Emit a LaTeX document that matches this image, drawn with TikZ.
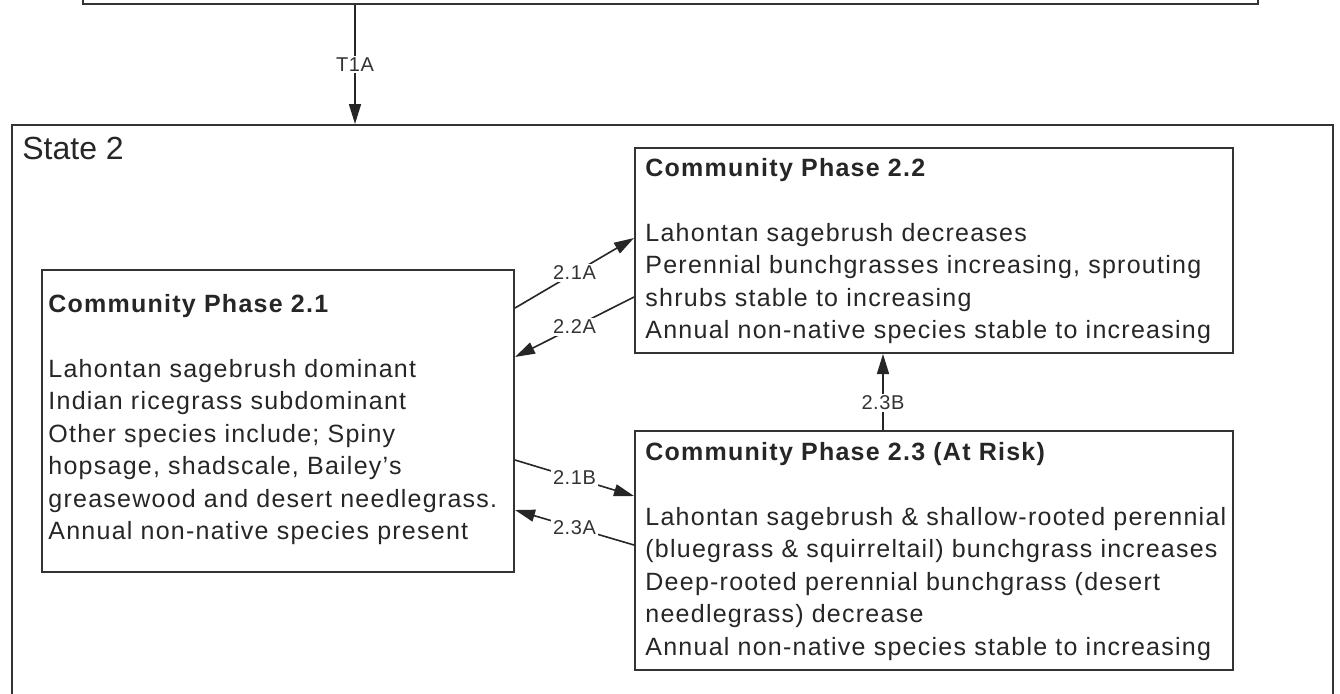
\documentclass[tikz,border=0pt]{standalone}
\usepackage{fontspec}
\setmainfont{Liberation Sans}
\newfontfamily\boxfont[LetterSpace=5]{Liberation Sans}
\newfontfamily\lblfont[LetterSpace=3]{Liberation Sans}
\usetikzlibrary{arrows.meta,fit}
\begin{document}
\begin{tikzpicture}[x=0.5pt,y=-0.5pt,
  frame/.style={draw=black!80,line width=1pt,inner sep=0pt},
  conn/.style={draw=black!85,line width=0.8pt,-{Triangle[length=10pt,width=6pt]}},
  lbl/.style={fill=white,inner sep=1pt,text=black!80,font=\lblfont\fontsize{10}{12}\selectfont},
  body/.style={anchor=base west,inner sep=0pt,text=black!85,font=\boxfont\fontsize{12.5}{16.25}\selectfont}]
\useasboundingbox (0,0) rectangle (1340,693);
\clip (0,0) rectangle (1340,693);
\fill[white] (0,0) rectangle (1340,693);

% frames
\node[frame,fit={(83,-60) (1258,4)}] (top) {};
\node[frame,fit={(12,125) (1333,760)}] (state) {};
\node[frame,fit={(42,270) (514,572)}] (p21) {};
\node[frame,fit={(635,148) (1233,353)}] (p22) {};
\node[frame,fit={(635,431) (1233,670)}] (p23) {};

% texts
\node[anchor=base west,inner sep=0pt,text=black!85,font=\fontsize{16}{19}\selectfont] (s2lbl) at (22,159) {State 2};

\node[body] (t21) at (48,312) {\begin{tabular}[t]{@{}l@{}}
\textbf{Community Phase 2.1}\\
\\
Lahontan sagebrush dominant\\
Indian ricegrass subdominant\\
Other species include; Spiny\\
hopsage, shadscale, Bailey’s\\
greasewood and desert needlegrass.\\
Annual non-native species present
\end{tabular}};

\node[body] (t22) at (645,176) {\begin{tabular}[t]{@{}l@{}}
\textbf{Community Phase 2.2}\\
\\
Lahontan sagebrush decreases\\
Perennial bunchgrasses increasing, sprouting\\
shrubs stable to increasing\\
Annual non-native species stable to increasing
\end{tabular}};

\node[body] (t23) at (645,460) {\begin{tabular}[t]{@{}l@{}}
\textbf{Community Phase 2.3 (At Risk)}\\
\\
Lahontan sagebrush \& shallow-rooted perennial\\
(bluegrass \& squirreltail) bunchgrass increases\\
Deep-rooted perennial bunchgrass (desert\\
needlegrass) decrease\\
Annual non-native species stable to increasing
\end{tabular}};

% connectors
\draw[conn] (top.south -| 355,0) -- node[lbl] (lT1A) {T1A} (state.north -| 355,0);
\draw[conn] (p21.east |- 0,308) -- node[lbl] (l21A) {2.1A} (p22.west |- 0,238);
\draw[conn] (p22.west |- 0,297) -- node[lbl] (l22A) {2.2A} (p21.east |- 0,357);
\draw[conn] (p21.east |- 0,460) -- node[lbl] (l21B) {2.1B} (p23.west |- 0,496);
\draw[conn] (p23.west |- 0,545) -- node[lbl] (l23A) {2.3A} (p21.east |- 0,510);
\draw[conn] (p23.north -| 883,0) -- node[lbl,pos=0.36] (l23B) {2.3B} (p22.south -| 883,0);
\end{tikzpicture}
\end{document}
